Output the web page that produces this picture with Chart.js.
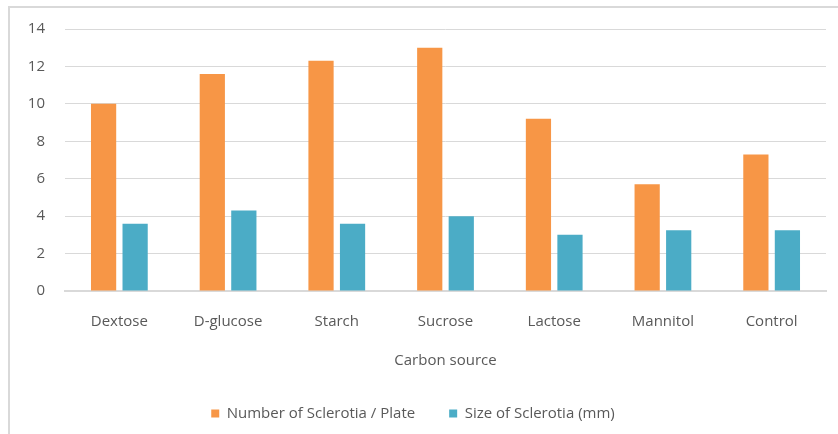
<!DOCTYPE html>
<html>
<head>
<meta charset="utf-8">
<script src="https://cdn.jsdelivr.net/npm/chart.js@4"></script>
<style>
  html, body { margin: 0; padding: 0; background: #fff; }
  #wrap { position: relative; width: 838px; height: 434px; }
  #frame { position: absolute; left: 8px; top: 6px; right: 0; bottom: 0;
           border-left: 2px solid #d9d9d9; border-top: 2px solid #d9d9d9; pointer-events: none; }
</style>
</head>
<body>
<div id="wrap">
  <canvas id="chart" width="838" height="434"></canvas>
  <div id="frame"></div>
</div>
<script>
// carbon source vs sclerotia
const categories = ["Dextose", "D-glucose", "Starch", "Sucrose", "Lactose", "Mannitol", "Control"];
const numberPerPlate = [10, 11.6, 12.3, 13, 9.2, 5.7, 7.3];
const sizeMm = [3.6, 4.3, 3.6, 4.0, 3.0, 3.25, 3.25];
const yTicks = [0, 2, 4, 6, 8, 10, 12, 14];

const FONT = "'Open Sans', sans-serif";
const GREY = "#595959";

new Chart(document.getElementById("chart"), {
  type: "bar",
  data: {
    labels: categories,
    datasets: [
      { label: "Number of Sclerotia / Plate", data: numberPerPlate, backgroundColor: "#f79646" },
      { label: "Size of Sclerotia (mm)", data: sizeMm, backgroundColor: "#4bacc6" }
    ]
  },
  options: {
    responsive: false,
    animation: false,
    categoryPercentage: 0.58,
    barPercentage: 0.8,
    layout: { padding: { left: 0, right: 12, top: 20, bottom: 3 } },
    plugins: {
      tooltip: { enabled: false },
      legend: {
        position: "bottom",
        labels: {
          boxWidth: 8, boxHeight: 8, padding: 34,
          color: GREY, font: { family: FONT, size: 15 }
        }
      }
    },
    scales: {
      x: {
        grid: { display: false },
        border: { color: "#d9d9d9", width: 2 },
        ticks: { color: GREY, font: { family: FONT, size: 15 }, padding: 14 },
        title: { display: true, text: "Carbon source", color: GREY,
                 font: { family: FONT, size: 15 }, padding: { top: 14, bottom: 2 } },
        afterFit: s => { s.height = 81; }
      },
      y: {
        min: 0, max: 14,
        afterBuildTicks: s => { s.ticks = yTicks.map(v => ({ value: v })); },
        grid: { color: "#d9d9d9", drawTicks: false, lineWidth: 1 },
        border: { display: false },
        ticks: { color: GREY, font: { family: FONT, size: 15 }, padding: 20 },
        afterFit: s => { s.width = 65; }
      }
    }
  }
});
</script>
</body>
</html>
